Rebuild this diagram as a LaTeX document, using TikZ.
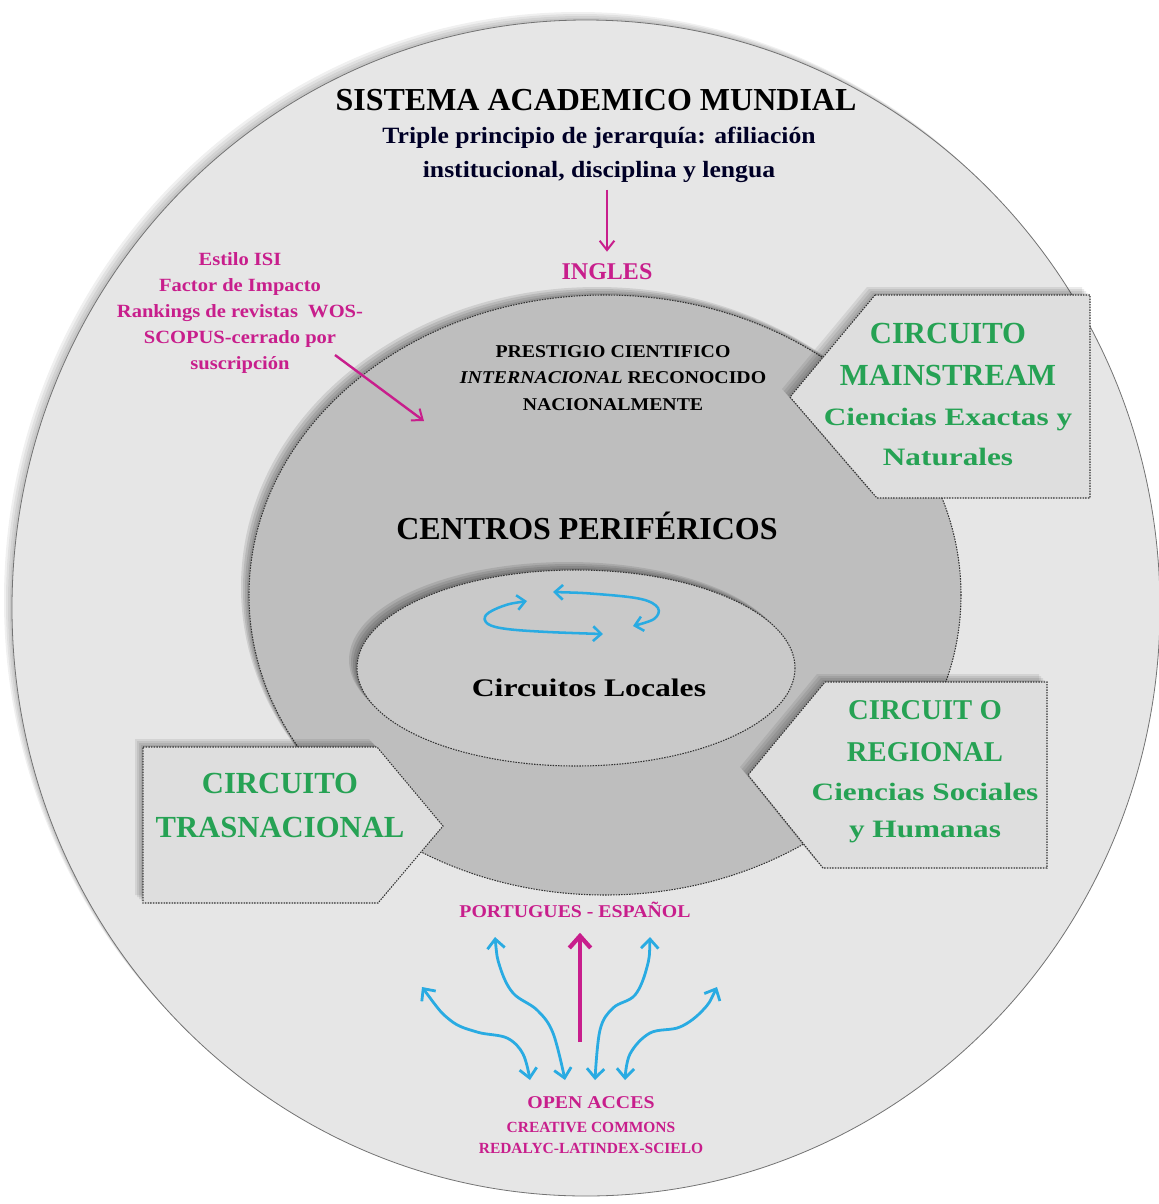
\documentclass[tikz,border=0pt]{standalone}
\usepackage{fontspec}
\setmainfont{Liberation Serif}
\newfontfamily\wdf[FakeStretch=1.25]{Liberation Serif}
\newfontfamily\mdf[FakeStretch=1.1]{Liberation Serif}
\usetikzlibrary{arrows.meta}
\newcommand{\fs}[2]{\fontsize{#1}{#2}\selectfont}
\definecolor{couter}{RGB}{230,230,230}
\definecolor{cmid}{RGB}{190,190,190}
\definecolor{cinner}{RGB}{201,201,201}
\definecolor{cbox}{RGB}{222,222,222}
\definecolor{cgreen}{RGB}{38,162,84}
\definecolor{cmag}{RGB}{200,30,140}
\definecolor{cblue}{RGB}{41,171,226}
\newcommand{\mkshadow}[2]{%
  \fill[black,opacity=#2,shift={(-2,-2)}] #1;
  \fill[black,opacity=#2,shift={(-4,-4)}] #1;
  \fill[black,opacity=#2,shift={(-6,-6)}] #1;
  \fill[black,opacity=#2,shift={(-8,-8)}] #1;}
\tikzset{
  txt/.style={inner sep=0pt, align=center, text=black},
  grn/.style={inner sep=0pt, align=center, text=cgreen},
  mag/.style={inner sep=0pt, align=center, text=cmag},
  dotborder/.style={draw=black!80, line width=0.8pt, dash pattern=on 1.1pt off 0.9pt},
  magarrow/.style={draw=cmag, line width=1.5pt, -{Straight Barb[length=7pt,width=11pt,line width=1.5pt]}},
  bluearrow/.style={draw=cblue, line width=2.1pt, line cap=round,
    {Straight Barb[length=7pt,width=13pt,line width=2.1pt]}-{Straight Barb[length=7pt,width=13pt,line width=2.1pt]}},
  smallblue/.style={draw=cblue, line width=1.9pt, line cap=round,
    {Straight Barb[length=6pt,width=11pt,line width=1.9pt]}-{Straight Barb[length=6pt,width=11pt,line width=1.9pt]}},
}
\begin{document}
\begin{tikzpicture}[x=0.75pt,y=-0.75pt]
\useasboundingbox (0,0) rectangle (1159,1204);
\fill[white] (0,0) rectangle (1159,1204);
% outer circle
\def\outerp{(586,608) ellipse [x radius=574, y radius=588]}
\mkshadow{\outerp}{0.06}
\fill[couter] \outerp;
\draw[black!55, line width=0.6pt] \outerp;
% middle ellipse
\def\midp{(605,595) ellipse [x radius=356, y radius=300]}
\mkshadow{\midp}{0.10}
\fill[cmid] \midp;
\draw[dotborder] \midp;
% inner ellipse
\def\innp{(576,668) ellipse [x radius=219, y radius=98]}
\mkshadow{\innp}{0.10}
\fill[cinner] \innp;
\draw[dotborder] \innp;
% boxes
\def\mainp{(875,295) -- (1090,295) -- (1090,498) -- (877,498) -- (790,397) -- cycle}
\def\regp{(825,682) -- (1047,682) -- (1047,868) -- (823,868) -- (748,775) -- cycle}
\def\trasp{(143,747) -- (377,747) -- (443,826) -- (378,903) -- (143,903) -- cycle}
\mkshadow{\mainp}{0.08}
\mkshadow{\regp}{0.08}
\mkshadow{\trasp}{0.08}
\fill[cbox] \mainp; \draw[dotborder] \mainp;
\fill[cbox] \regp; \draw[dotborder] \regp;
\fill[cbox] \trasp; \draw[dotborder] \trasp;

% texts
\node[txt, font={\bfseries\fs{24}{28}}] (title) at (596,100) {SISTEMA ACADEMICO MUNDIAL};
\node[txt, text=black!85!blue, font={\bfseries\mdf\fs{17.5}{25.5}}] (tri) at (599,155)
  {Triple principio de jerarquía: afiliación\\institucional, disciplina y lengua};
\node[mag, font={\bfseries\fs{18}{20}}] (ingles) at (607,272) {INGLES};
\node[mag, font={\bfseries\mdf\fs{14}{19.5}}] (isi) at (240,313)
  {Estilo ISI\\Factor de Impacto\\Rankings de revistas\ \ WOS-\\SCOPUS-cerrado por\\suscripción};
\node[txt, font={\bfseries\mdf\fs{13.5}{20}}] (prest) at (613,378)
  {PRESTIGIO CIENTIFICO\\\textit{INTERNACIONAL} RECONOCIDO\\NACIONALMENTE};
\node[txt, font={\bfseries\fs{24}{28}}] (centros) at (587,526) {CENTROS PERIFÉRICOS};
\node[txt, font={\bfseries\wdf\fs{19}{22}}] (locales) at (589,688) {Circuitos Locales};
\node[grn, font={\bfseries\fs{23}{31.5}}] (mainT) at (948,354) {CIRCUITO\\MAINSTREAM};
\node[grn, font={\bfseries\wdf\fs{18.75}{30}}] (mainS) at (948,437) {Ciencias Exactas y\\Naturales};
\node[grn, font={\bfseries\fs{21.5}{32}}] (regT) at (925,731) {CIRCUIT O\\REGIONAL};
\node[grn, font={\bfseries\wdf\fs{18.75}{27.75}}] (regS) at (925,813) {Ciencias Sociales\\y Humanas};
\node[grn, font={\bfseries\fs{23}{33}}] (trasT) at (280,805) {CIRCUITO\\TRASNACIONAL};
\node[mag, font={\bfseries\mdf\fs{13.5}{16}}] (port) at (575,910) {PORTUGUES - ESPAÑOL};
\node[mag, font={\bfseries\mdf\fs{13.5}{16}}] (open) at (591,1103) {OPEN ACCES};
\node[mag, font={\bfseries\fs{11.6}{14}}] (cc) at (591,1127) {CREATIVE COMMONS};
\node[mag, font={\bfseries\fs{11.6}{14}}] (redal) at (591,1148) {REDALYC-LATINDEX-SCIELO};

% magenta arrows
\draw[magarrow] ([yshift=-5pt]tri.south -| ingles.north) -- ([yshift=9pt]ingles.north);
\coordinate (isitail) at (335,355);
\coordinate (isitip) at (424,421);
\draw[magarrow, line width=1.8pt] (isitail) -- (isitip);
\coordinate (uptail) at (580,1042);
\draw[draw=cmag, line width=3.2pt, -{Straight Barb[length=9pt,width=16pt,line width=3.2pt]}]
  (uptail) -- ([yshift=-11pt]port.south -| uptail);

% blue double arrows (bottom)
\coordinate (a1s) at (422,987); \coordinate (a1e) at (530,1080);
\coordinate (a2s) at (495,937); \coordinate (a2e) at (565,1080);
\coordinate (a3s) at (650,937); \coordinate (a3e) at (595,1080);
\coordinate (a4s) at (717,987); \coordinate (a4e) at (625,1080);
\draw[bluearrow] plot[smooth, tension=0.6] coordinates {(a1s) (450,1020) (477,1032) (507,1038) (523,1054) (a1e)};
\draw[bluearrow] plot[smooth, tension=0.6] coordinates {(a2s) (500,967) (513,993) (537,1010) (553,1033) (a2e)};
\draw[bluearrow] plot[smooth, tension=0.6] coordinates {(a3s) (647,967) (635,995) (613,1008) (600,1030) (a3e)};
\draw[bluearrow] plot[smooth, tension=0.6] coordinates {(a4s) (703,1010) (680,1027) (650,1033) (630,1054) (a4e)};

% blue cycle arrows (inner)
\coordinate (c1s) at (527,601); \coordinate (c1e) at (603,634);
\coordinate (c2s) at (553,592); \coordinate (c2e) at (633,626);
\draw[smallblue] plot[smooth, tension=0.6] coordinates {(c1s) (503,606) (486,615) (488,624) (507,629) (548,632) (c1e)};
\draw[smallblue] plot[smooth, tension=0.6] coordinates {(c2s) (597,594) (641,599) (658,608) (654,619) (c2e)};
\end{tikzpicture}
\end{document}
